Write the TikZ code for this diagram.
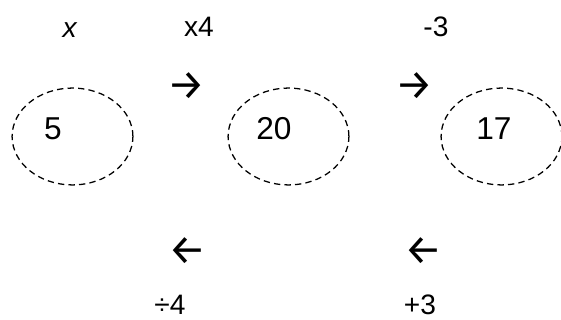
\documentclass[tikz,border=0pt]{standalone}
\usepackage{fontspec}
\setmainfont{Liberation Sans}
\newfontfamily\arrowfont{Fira Sans}
\usetikzlibrary{shapes.geometric}
\tikzset{
  val/.style={draw,ellipse,dash pattern=on 4.5pt off 3pt,line width=0.9pt,minimum width=3.02cm,minimum height=2.42cm,inner sep=0pt},
  num/.style={font=\fontsize{22.5}{26}\selectfont,inner sep=0pt},
  op/.style={font=\fontsize{20}{24}\selectfont,inner sep=0pt},
  sym/.style={font=\arrowfont\fontsize{30}{34}\selectfont,inner sep=0pt},
}
\begin{document}
\begin{tikzpicture}[x=0.025cm,y=-0.025cm]
  \useasboundingbox (0,0) rectangle (561,320);
  % top row: operations
  \node[op] (var) at (70,30) {\textit{x}};
  \node[op] (mul) at (199,27) {x4};
  \node[op] (sub) at (436,27) {-3};
  \node[sym] (fwd1) at (186,86) {→};
  \node[sym] (fwd2) at (414,86) {→};
  % values
  \node[val] (e1) at (72.5,136.5) {};
  \node[val] (e2) at (288.5,136.5) {};
  \node[val] (e3) at (501.5,136.5) {};
  \node[num] (v1) at (53,129) {5};
  \node[num] (v2) at (274,129) {20};
  \node[num] (v3) at (494,129) {17};
  % bottom row: inverse operations
  \node[sym] (back1) at (187,251) {←};
  \node[sym] (back2) at (423,251) {←};
  \node[op] (div) at (170,305) {÷4};
  \node[op] (add) at (420,305) {+3};
\end{tikzpicture}
\end{document}
